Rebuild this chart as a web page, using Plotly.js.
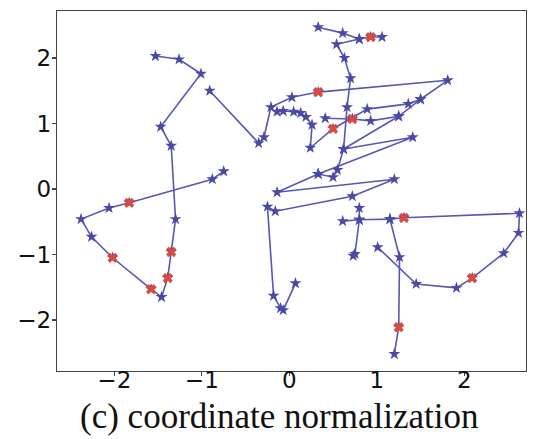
<!DOCTYPE html>
<html>
<head>
<meta charset="utf-8">
<script src="https://cdn.plot.ly/plotly-3.0.1.min.js"></script>
<style>html,body{margin:0;padding:0;background:#fff;}#chart{width:540px;height:439px;}</style>
</head>
<body>
<div id="chart"></div>
<script>
// Stroke vertices (data coordinates); null separates strokes
var pathX = [
  -1.53,-1.26,-1.01,-1.47,-1.35,-1.30,-1.35,-1.39,-1.46,-1.58,-2.02,-2.26,-2.38,-2.06,-1.83,-0.88,-0.75, null,
  -0.91,-0.35,-0.29,-0.21,0.03,0.33,1.81,1.50,1.36,0.89,0.50,0.24,0.26,0.19,0.13,0.05,-0.07,-0.14, null,
  0.33,0.61,0.80,0.93,1.06, null,
  0.80,0.54,0.63,0.70,0.66,0.62,0.55,0.50,0.33, null,
  1.25,0.62,1.41,0.33, null,
  0.41,0.72,0.93,1.25,1.50, null,
  0.33,-0.14,1.20,0.72,-0.16,-0.25,-0.18,-0.10,-0.07,0.07, null,
  0.80,0.80,0.75,0.73, null,
  0.61,0.80,1.15,1.31,2.63,2.62,2.45,2.09,1.91,1.45,1.01, null,
  1.15,1.26,1.25,1.20
];
var pathY = [
  2.03,1.98,1.76,0.95,0.66,-0.46,-0.96,-1.36,-1.65,-1.53,-1.05,-0.73,-0.46,-0.29,-0.21,0.15,0.27, null,
  1.50,0.70,0.79,1.25,1.40,1.48,1.66,1.37,1.30,1.22,0.92,0.63,0.98,1.10,1.16,1.18,1.19,1.18, null,
  2.47,2.38,2.29,2.32,2.32, null,
  2.29,2.21,2.00,1.69,1.25,0.61,0.29,0.18,0.23, null,
  1.11,0.61,0.79,0.23, null,
  1.08,1.07,1.04,1.11,1.37, null,
  0.23,-0.05,0.15,-0.11,-0.34,-0.27,-1.63,-1.82,-1.85,-1.44, null,
  -0.29,-0.47,-0.99,-1.02, null,
  -0.49,-0.47,-0.46,-0.44,-0.37,-0.67,-0.98,-1.36,-1.51,-1.45,-0.89, null,
  -0.46,-1.04,-2.11,-2.52
];
// Red cross marks
var crossX = [-1.35,-1.39,-1.58,-2.02,-1.83,0.33,0.50,0.93,0.72,1.31,2.09,1.25];
var crossY = [-0.96,-1.36,-1.53,-1.05,-0.21,1.48,0.92,2.32,1.07,-0.44,-1.36,-2.11];
var tickVals = [-2,-1,0,1,2];
var tickText = ['\u22122','\u22121','0','1','2'];
var caption = '(c) coordinate normalization';

var traces = [
  {x: pathX, y: pathY, type: 'scatter', mode: 'lines+markers', connectgaps: false,
   line: {color: '#5757b5', width: 1.6},
   marker: {symbol: 'star', size: 9, color: '#4a4aa6'}, hoverinfo: 'skip'},
  {x: crossX, y: crossY, type: 'scatter', mode: 'markers',
   marker: {symbol: 'x', size: 9, color: '#dd4a3a', line: {width: 0}}, hoverinfo: 'skip'}
];
var axisCommon = {
  showgrid: false, zeroline: false, showline: true, mirror: true,
  linecolor: '#444', linewidth: 1.3, ticks: 'outside', ticklen: 4, tickwidth: 1.2, tickcolor: '#444',
  tickfont: {family: 'DejaVu Sans', size: 23, color: '#111'},
  tickvals: tickVals, ticktext: tickText
};
var layout = {
  width: 540, height: 439, showlegend: false,
  margin: {l: 57, r: 14, t: 11, b: 68},
  paper_bgcolor: '#fff', plot_bgcolor: '#fff',
  xaxis: Object.assign({}, axisCommon, {range: [-2.655, 2.705], ticklabelstandoff: -16}),
  yaxis: Object.assign({}, axisCommon, {range: [-2.779, 2.718], ticklabelstandoff: -4}),
  annotations: [{
    text: caption, xref: 'paper', yref: 'paper', x: 0.474, y: -0.127,
    xanchor: 'center', yanchor: 'middle', showarrow: false,
    font: {family: 'Liberation Serif', size: 35, color: '#111'}
  }]
};
Plotly.newPlot('chart', traces, layout, {staticPlot: true, displayModeBar: false});
</script>
</body>
</html>
